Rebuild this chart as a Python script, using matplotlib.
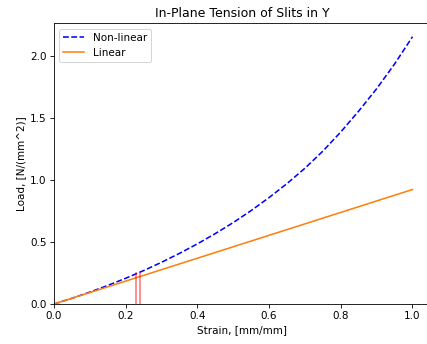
import matplotlib
matplotlib.use("Agg")
import matplotlib.pyplot as plt
import numpy as np

strain = [0.0, 0.05, 0.10, 0.15, 0.20, 0.25, 0.30, 0.35, 0.40, 0.45, 0.50,
          0.55, 0.60, 0.65, 0.70, 0.75, 0.80, 0.85, 0.90, 0.95, 1.0]
load_nonlinear = [0.0, 0.046, 0.096, 0.150, 0.208, 0.270, 0.337, 0.409, 0.486, 0.569, 0.658,
                  0.755, 0.860, 0.973, 1.097, 1.235, 1.390, 1.559, 1.739, 1.939, 2.159]
strain_linear = [0.0, 1.0]
load_linear = [0.0, 0.925]
slit_x = [0.230, 0.240]
slit_top = [0.247, 0.247]

DPI = 75
fig = plt.figure(figsize=(427 / DPI, 344 / DPI), dpi=DPI)
ax = fig.add_axes([54 / 427, 1 - 304 / 344, (430.4 - 54) / 427, (304 - 23.3) / 344])

ax.plot(strain, load_nonlinear, 'b--', label='Non-linear')
ax.plot(strain_linear, load_linear, color='tab:orange', label='Linear')
for x, t in zip(slit_x, slit_top):
    ax.plot([x, x], [0, t], color='red', alpha=0.55, linewidth=1.5)

ax.set_xlim(0, 1.05)
ax.set_ylim(0, 2.268)
ax.set_title('In-Plane Tension of Slits in Y')
ax.set_xlabel('Strain, [mm/mm]')
ax.set_ylabel('Load, [N/(mm^2)]')
ax.legend(loc='upper left')

fig.savefig('out.png', dpi=DPI)
